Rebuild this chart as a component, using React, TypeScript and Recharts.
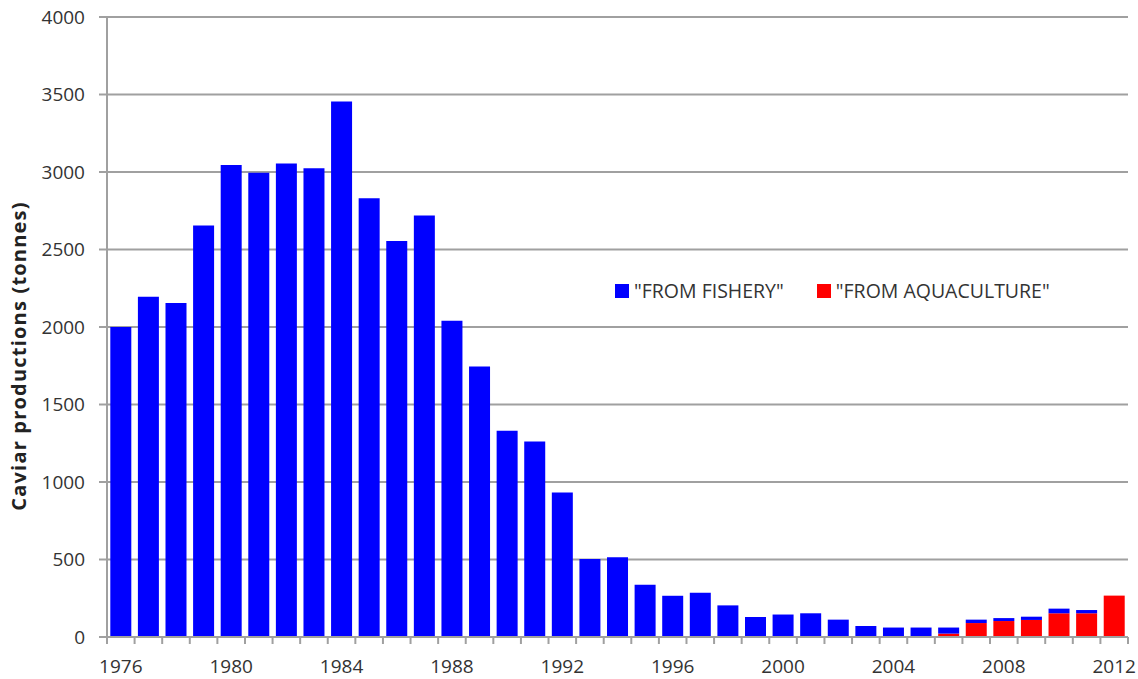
import { BarChart, Bar, XAxis, YAxis, CartesianGrid, Legend, Label } from "recharts";

const years = [
  "1976", "1977", "1978", "1979", "1980", "1981", "1982", "1983", "1984", "1985",
  "1986", "1987", "1988", "1989", "1990", "1991", "1992", "1993", "1994", "1995",
  "1996", "1997", "1998", "1999", "2000", "2001", "2002", "2003", "2004", "2005",
  "2006", "2007", "2008", "2009", "2010", "2011", "2012",
];

const fishery = [
  2000, 2195, 2155, 2655, 3045, 2995, 3055, 3025, 3455, 2830,
  2555, 2720, 2040, 1745, 1330, 1262, 933, 503, 514, 337,
  266, 286, 204, 124, 145, 153, 107, 71, 56, 56,
  39, 22, 19, 21, 30, 21, 0,
];

const aquaculture = [
  0, 0, 0, 0, 0, 0, 0, 0, 0, 0,
  0, 0, 0, 0, 0, 0, 0, 0, 0, 0,
  0, 0, 0, 5, 0, 0, 5, 0, 5, 5,
  22, 90, 103, 110, 153, 153, 267,
];

const yTicks = [0, 500, 1000, 1500, 2000, 2500, 3000, 3500, 4000];
const labelYears = ["1976", "1980", "1984", "1988", "1992", "1996", "2000", "2004", "2008", "2012"];

const data = years.map((y, i) => ({
  year: y,
  fishery: fishery[i],
  aquaculture: aquaculture[i],
}));

const W = 1138;
const H = 679;
const M = { top: 17, right: 10, left: 0, bottom: 0 };
const Y_W = 107;
const halfBand = (W - M.right - Y_W) / years.length / 2;
const font = "'Open Sans', sans-serif";
const axisColor = "#a0a0a0";

const YearTick = (props: any) => {
  const { x, y, payload, index } = props;
  const last = index === years.length - 1;
  return (
    <g>
      <line x1={x - halfBand} x2={x - halfBand} y1={y} y2={y + 7} stroke={axisColor} strokeWidth={2} />
      {last && <line x1={x + halfBand} x2={x + halfBand} y1={y} y2={y + 7} stroke={axisColor} strokeWidth={2} />}
      {labelYears.includes(payload.value) && (
        <text x={x} y={y + 36} textAnchor="middle" fontSize={19} fill="#333" fontFamily={font}>
          {payload.value}
        </text>
      )}
    </g>
  );
};

const LegendBox = () => (
  <div style={{ display: "flex", alignItems: "center", fontFamily: font, fontSize: 19.5, color: "#333", whiteSpace: "nowrap" }}>
    <span style={{ width: 14, height: 14, background: "#0000ff", display: "inline-block", marginRight: 5 }} />
    <span style={{ marginRight: 33 }}>"FROM FISHERY"</span>
    <span style={{ width: 14, height: 14, background: "#ff0000", display: "inline-block", marginRight: 5 }} />
    <span>"FROM AQUACULTURE"</span>
  </div>
);

export default function App() {
  return (
    <div style={{ position: "absolute", left: 0, top: 0, background: "#fff" }}>
      <BarChart width={W} height={H} data={data} margin={M} barCategoryGap="12%">
        <CartesianGrid vertical={false} stroke={axisColor} strokeWidth={2} />
        <XAxis
          dataKey="year"
          interval={0}
          tickLine={false}
          tickSize={0}
          tickMargin={0}
          height={42}
          stroke={axisColor}
          strokeWidth={2}
          tick={<YearTick />}
        />
        <YAxis
          width={Y_W}
          domain={[0, 4000]}
          ticks={yTicks}
          interval={0}
          tickSize={8}
          tickMargin={14}
          stroke={axisColor}
          strokeWidth={2}
          tick={{ fill: "#333", fontSize: 19, fontFamily: font }}
        >
          <Label
            content={() => (
              <text
                x={26}
                y={356}
                transform="rotate(-90 26 356)"
                textAnchor="middle"
                fontSize={20}
                fontWeight="bold"
                letterSpacing={1.2}
                fill="#222"
                fontFamily={font}
              >
                Caviar productions (tonnes)
              </text>
            )}
          />
        </YAxis>
        <Legend
          verticalAlign="middle"
          content={<LegendBox />}
          wrapperStyle={{ top: 277, left: 615, width: "auto" }}
        />
        <Bar dataKey="aquaculture" stackId="a" fill="#ff0000" isAnimationActive={false} />
        <Bar dataKey="fishery" stackId="a" fill="#0000ff" isAnimationActive={false} />
      </BarChart>
    </div>
  );
}
